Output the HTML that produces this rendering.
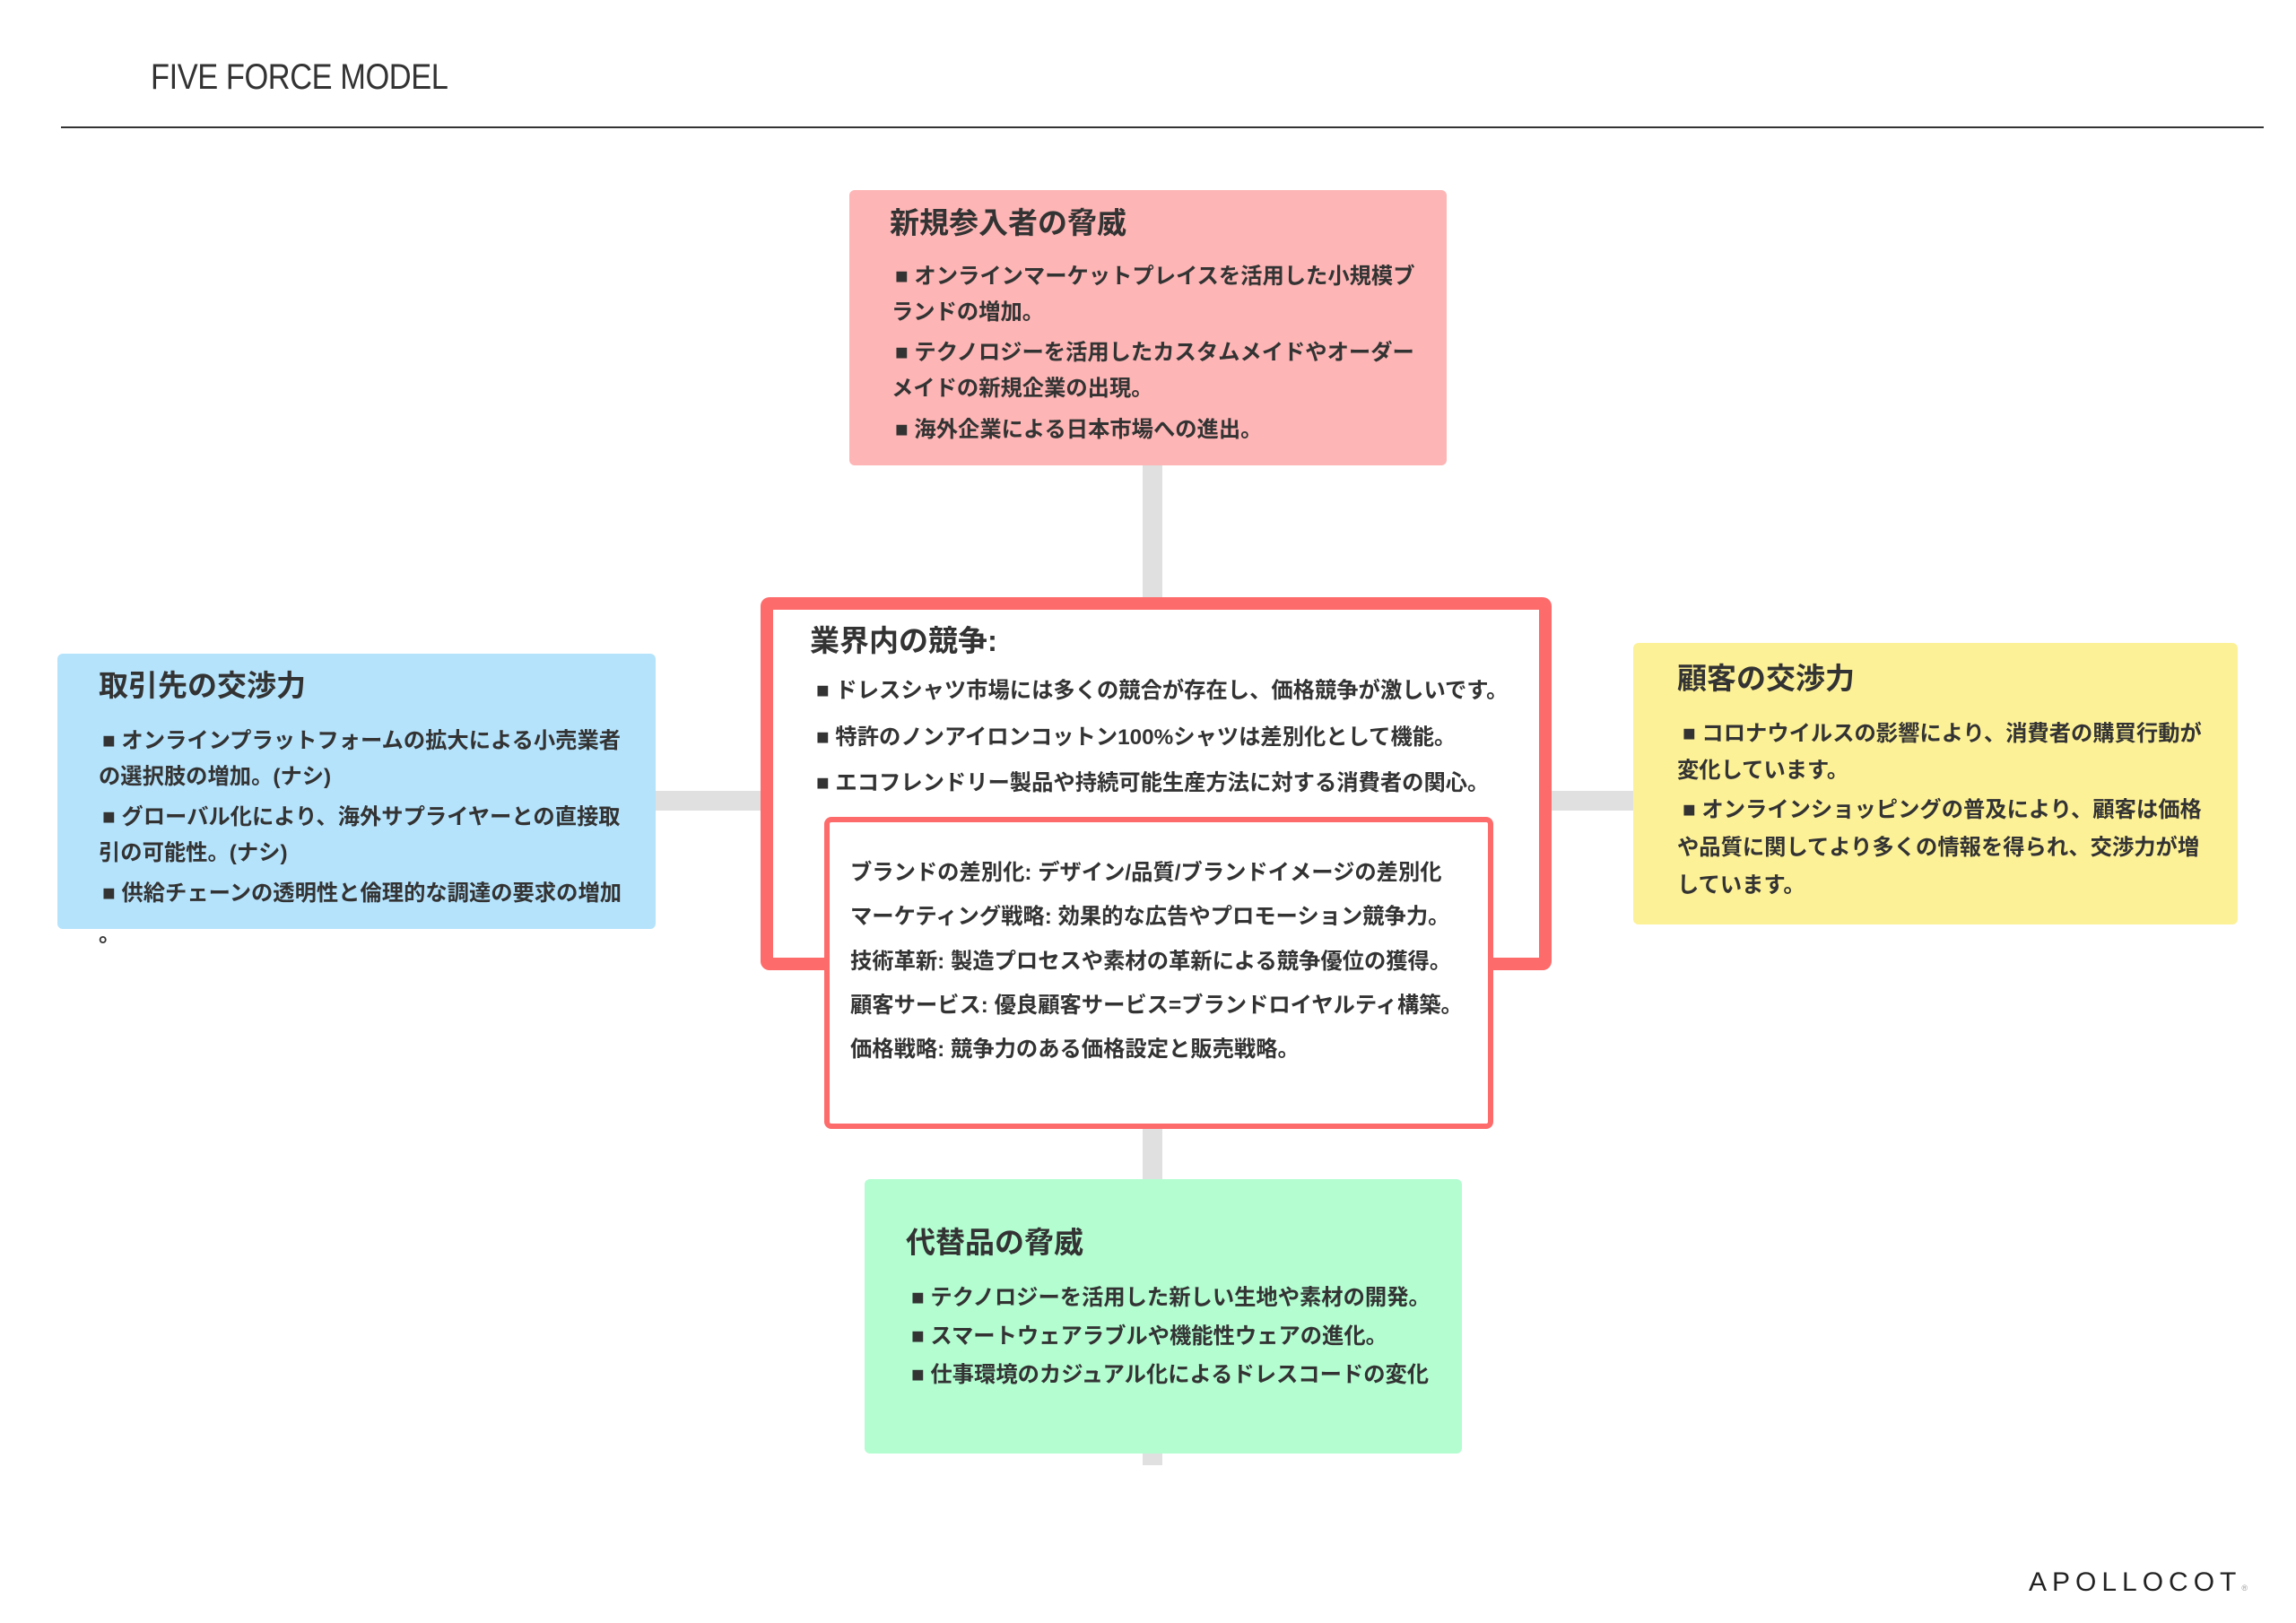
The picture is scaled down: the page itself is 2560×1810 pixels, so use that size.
<!DOCTYPE html>
<html><head><meta charset="utf-8"><style>
*{margin:0;padding:0;box-sizing:border-box}
body{width:2560px;height:1810px;background:#fff;position:relative;overflow:hidden;font-family:"Liberation Sans","Noto Sans CJK JP",sans-serif;color:#333}
.a{position:absolute}
.t{position:absolute;font-size:33px;font-weight:bold;white-space:nowrap;line-height:40px;color:#333}
.l{position:absolute;font-size:24.3px;font-weight:bold;white-space:nowrap;line-height:40px;color:#333}
.g{position:absolute;background:#e0e0e0}
</style></head><body>
<div class="a" style="left:168px;top:64px;font-size:40px;color:#333;transform:scaleX(0.86);transform-origin:left top;letter-spacing:-0.5px">FIVE FORCE MODEL</div>
<div class="a" style="left:68px;top:141px;width:2456px;height:2px;background:#333"></div>

<!-- connectors -->
<div class="g" style="left:1274px;top:519px;width:22px;height:150px"></div>
<div class="g" style="left:731px;top:882px;width:120px;height:22px"></div>
<div class="g" style="left:1727px;top:882px;width:95px;height:22px"></div>
<div class="g" style="left:1274px;top:1255px;width:22px;height:62px"></div>
<div class="g" style="left:1274px;top:1618px;width:22px;height:16px"></div>

<!-- pink -->
<div class="a" style="left:947px;top:212px;width:666px;height:307px;background:#fdb5b5;border-radius:6px"></div>
<div class="t" style="left:992px;top:229px">新規参入者の脅威</div>
<div class="l" style="left:998px;top:289px">■ オンラインマーケットプレイスを活用した小規模ブ</div>
<div class="l" style="left:994px;top:329px">ランドの増加。</div>
<div class="l" style="left:998px;top:374px">■ テクノロジーを活用したカスタムメイドやオーダー</div>
<div class="l" style="left:994px;top:414px">メイドの新規企業の出現。</div>
<div class="l" style="left:998px;top:460px">■ 海外企業による日本市場への進出。</div>

<!-- blue -->
<div class="a" style="left:64px;top:729px;width:667px;height:307px;background:#b5e3fc;border-radius:6px"></div>
<div class="t" style="left:110px;top:745px">取引先の交渉力</div>
<div class="l" style="left:114px;top:807px">■ オンラインプラットフォームの拡大による小売業者</div>
<div class="l" style="left:110px;top:847px">の選択肢の増加。(ナシ)</div>
<div class="l" style="left:114px;top:892px">■ グローバル化により、海外サプライヤーとの直接取</div>
<div class="l" style="left:110px;top:932px">引の可能性。(ナシ)</div>
<div class="l" style="left:114px;top:977px">■ 供給チェーンの透明性と倫理的な調達の要求の増加</div>
<div class="l" style="left:110px;top:1023px">。</div>

<!-- yellow -->
<div class="a" style="left:1821px;top:717px;width:674px;height:314px;background:#fdf197;border-radius:6px"></div>
<div class="t" style="left:1870px;top:737px">顧客の交渉力</div>
<div class="l" style="left:1876px;top:799px">■ コロナウイルスの影響により、消費者の購買行動が</div>
<div class="l" style="left:1870px;top:840px">変化しています。</div>
<div class="l" style="left:1876px;top:884px">■ オンラインショッピングの普及により、顧客は価格</div>
<div class="l" style="left:1870px;top:926px">や品質に関してより多くの情報を得られ、交渉力が増</div>
<div class="l" style="left:1870px;top:968px">しています。</div>

<!-- green -->
<div class="a" style="left:964px;top:1315px;width:666px;height:306px;background:#b3fdd1;border-radius:6px"></div>
<div class="t" style="left:1010px;top:1366px">代替品の脅威</div>
<div class="l" style="left:1016px;top:1428px">■ テクノロジーを活用した新しい生地や素材の開発。</div>
<div class="l" style="left:1016px;top:1471px">■ スマートウェアラブルや機能性ウェアの進化。</div>
<div class="l" style="left:1016px;top:1514px">■ 仕事環境のカジュアル化によるドレスコードの変化</div>

<!-- center -->
<div class="a" style="left:848px;top:666px;width:882px;height:416px;border:14px solid #fe6b6b;border-radius:10px;background:#fff"></div>
<div class="t" style="left:903px;top:695px">業界内の競争:</div>
<div class="l" style="left:910px;top:751px">■ ドレスシャツ市場には多くの競合が存在し、価格競争が激しいです。</div>
<div class="l" style="left:910px;top:803px">■ 特許のノンアイロンコットン100%シャツは差別化として機能。</div>
<div class="l" style="left:910px;top:854px">■ エコフレンドリー製品や持続可能生産方法に対する消費者の関心。</div>

<div class="a" style="left:919px;top:911px;width:746px;height:348px;border:6px solid #fe6b6b;border-radius:8px;background:#fff"></div>
<div class="l" style="left:948px;top:954px">ブランドの差別化: デザイン/品質/ブランドイメージの差別化</div>
<div class="l" style="left:948px;top:1003px">マーケティング戦略: 効果的な広告やプロモーション競争力。</div>
<div class="l" style="left:948px;top:1053px">技術革新: 製造プロセスや素材の革新による競争優位の獲得。</div>
<div class="l" style="left:948px;top:1102px">顧客サービス: 優良顧客サービス=ブランドロイヤルティ構築。</div>
<div class="l" style="left:948px;top:1151px">価格戦略: 競争力のある価格設定と販売戦略。</div>

<div class="a" style="left:2262px;top:1748px;font-size:30px;letter-spacing:6px;color:#222">APOLLOCOT<span style="font-size:9px;letter-spacing:0;color:#999">®</span></div>
</body></html>
